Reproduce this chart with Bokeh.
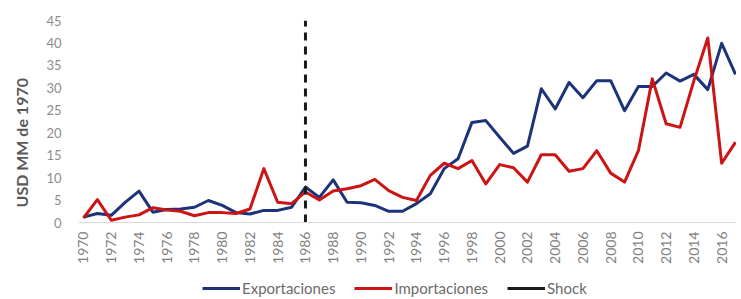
from math import pi
import numpy as np
from bokeh.plotting import figure
from bokeh.layouts import column
from bokeh.models import Range1d, FixedTicker, Legend, LegendItem, Title
from bokeh.embed import file_html
from bokeh.resources import INLINE

years = list(range(1970, 2018))
exportaciones = [1.2, 2.0, 1.6, 4.5, 7.0, 2.3, 2.9, 3.0, 3.4, 4.9,
                 3.8, 2.2, 1.9, 2.7, 2.7, 3.4, 7.9, 5.6, 9.5, 4.5,
                 4.4, 3.8, 2.5, 2.5, 4.2, 6.4, 12.0, 14.2, 22.3, 22.7,
                 19.0, 15.4, 17.0, 29.8, 25.3, 31.2, 27.8, 31.6, 31.6, 24.9,
                 30.3, 30.3, 33.3, 31.5, 33.0, 29.6, 39.9, 33.0]
importaciones = [1.0, 5.1, 0.5, 1.2, 1.7, 3.3, 2.8, 2.5, 1.5, 2.2,
                 2.2, 2.0, 3.0, 12.0, 4.5, 4.2, 6.8, 5.0, 7.0, 7.5,
                 8.2, 9.6, 7.1, 5.6, 4.9, 10.5, 13.2, 12.0, 13.8, 8.6,
                 12.9, 12.2, 9.0, 15.1, 15.1, 11.4, 12.0, 16.0, 11.0, 9.0,
                 16.0, 32.0, 22.0, 21.2, 31.6, 41.1, 13.2, 17.9]
shock_x = [1986, 1986]
shock_y = [0, 45]
x_ticks = list(range(1970, 2017, 2))
y_ticks = list(range(0, 46, 5))
series_labels = ["Exportaciones", "Importaciones", "Shock"]
y_title = "USD MM de 1970"

FONT = "Lato"
BLUE = "#1c3379"
RED = "#cc1414"
BLACK = "#1a1a1a"

p = figure(width=736, height=272, output_backend="svg", toolbar_location=None,
           x_range=Range1d(1969.64, 2017.07), y_range=Range1d(0, 45),
           min_border_left=78, min_border_top=20, min_border_right=0,
           min_border_bottom=50)
p.outline_line_color = None
p.xgrid.grid_line_color = None
p.ygrid.grid_line_color = None

p.line(years, exportaciones, line_color=BLUE, line_width=3, line_join="round")
p.line(years, importaciones, line_color=RED, line_width=3, line_join="round")
p.line(shock_x, shock_y, line_color=BLACK, line_width=3, line_dash="8 6")

xa = p.xaxis[0]
xa.ticker = FixedTicker(ticks=x_ticks)
xa.major_label_orientation = pi / 2
xa.major_tick_line_color = None
xa.minor_tick_line_color = None
xa.major_tick_out = 0
xa.major_tick_in = 0
xa.axis_line_color = "#d9d9d9"
xa.axis_line_width = 1
xa.major_label_text_font = FONT
xa.major_label_text_font_size = "14px"
xa.major_label_text_color = "#7f7f7f"
xa.major_label_standoff = 9

ya = p.yaxis[0]
ya.ticker = FixedTicker(ticks=y_ticks)
ya.axis_line_color = None
ya.major_tick_line_color = None
ya.minor_tick_line_color = None
ya.major_tick_out = 0
ya.major_tick_in = 0
ya.major_label_text_font = FONT
ya.major_label_text_font_size = "13px"
ya.major_label_text_color = "#8c8c8c"
ya.major_label_standoff = 17

p.add_layout(Title(text=y_title, align="left", vertical_align="top",
                   offset=15, standoff=22, text_font=FONT,
                   text_font_size="16px", text_font_style="bold",
                   text_color="#595959"), "left")

# legend strip below the chart
lg = figure(width=736, height=25, output_backend="svg", toolbar_location=None,
            x_range=Range1d(0, 1), y_range=Range1d(0, 1),
            x_axis_type=None, y_axis_type=None,
            min_border_left=0, min_border_right=0, min_border_top=0,
            min_border_bottom=0)
lg.grid.visible = False
lg.outline_line_color = None
nan = np.array([np.nan])
r1 = lg.line(nan, nan, line_color=BLUE, line_width=3)
r2 = lg.line(nan, nan, line_color=RED, line_width=3)
r3 = lg.line(nan, nan, line_color=BLACK, line_width=3)
legend = Legend(items=[LegendItem(label=series_labels[0], renderers=[r1]),
                       LegendItem(label=series_labels[1], renderers=[r2]),
                       LegendItem(label=series_labels[2], renderers=[r3])],
                orientation="horizontal", location=(124, 0),
                label_text_font=FONT, label_text_font_size="15px",
                label_text_color="#6b6b6b", glyph_width=38, glyph_height=12,
                label_height=17, label_standoff=2, spacing=19, padding=1,
                margin=0, border_line_color=None, background_fill_alpha=0)
lg.add_layout(legend, "center")

layout = column(p, lg, spacing=0)
open("out.html", "w").write(file_html(layout, INLINE))
